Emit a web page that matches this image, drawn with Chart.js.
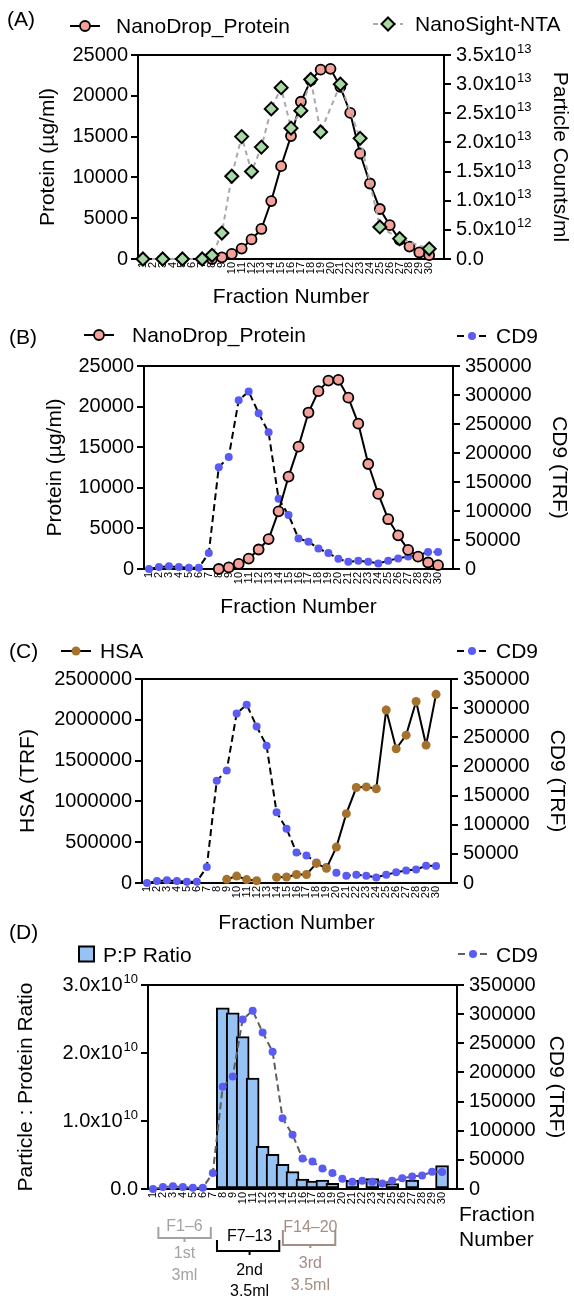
<!DOCTYPE html>
<html>
<head>
<meta charset="utf-8">
<script src="https://cdn.jsdelivr.net/npm/chart.js@4.4.1/dist/chart.umd.min.js"></script>
<style>
  html, body { margin: 0; padding: 0; background: #fff; }
  #page { position: relative; width: 574px; height: 1298px; overflow: hidden; }
  canvas { position: absolute; left: 0; }
</style>
</head>
<body>
<div id="page">
  <canvas id="panelA" width="574" height="310" style="top:0px;width:574px;height:310px"></canvas>
  <canvas id="panelB" width="574" height="310" style="top:310px;width:574px;height:310px"></canvas>
  <canvas id="panelC" width="574" height="316" style="top:620px;width:574px;height:316px"></canvas>
  <canvas id="panelD" width="574" height="383" style="top:915px;width:574px;height:383px"></canvas>
</div>
<script>
// fraction numbers 1..30
const fractions = [1, 2, 3, 4, 5, 6, 7, 8, 9, 10, 11, 12, 13, 14, 15, 16, 17, 18, 19, 20, 21, 22, 23, 24, 25, 26, 27, 28, 29, 30];

// NanoDrop protein, ug/ml
const proteinUgMl = [null, null, null, null, null, null, null, 0, 200, 620, 1280, 2400, 3680, 7100, 11380, 15070, 19270, 21900, 23200, 23300, 21100, 17900, 12930, 9250, 6130, 4150, 2350, 1520, 800, 470];

// NanoSight-NTA particle counts / ml
const ntaParticles = [0, null, 0, null, 0, null, 0, 6.3e11, 4.45e12, 1.42e13, 2.10e13, 1.50e13, 1.92e13, 2.575e13, 2.94e13, 2.245e13, 2.545e13, 3.08e13, 2.18e13, null, 3.0e13, null, 2.07e13, null, 5.5e12, null, 3.5e12, null, null, 1.75e12];

// CD9 TRF
const cd9Trf = [0, 3400, 4600, 3400, 2300, 2300, 27500, 175500, 193200, 291000, 306000, 268600, 235600, 121200, 93200, 52500, 47000, 35300, 27500, 17500, 12300, 14300, 12600, 9500, 14300, 18300, 21500, 23300, 29500, 29300];

// HSA TRF
const hsaTrf = [null, null, null, null, null, null, null, null, 45000, 85000, 42000, 27000, null, 70000, 74000, 104000, 104000, 240000, 180000, 440000, 850000, 1170000, 1178000, 1155000, 2120000, 1645000, 1812000, 2224000, 1690000, 2312000];

// particle : protein ratio
const ppRatio = [null, null, null, null, null, null, null, 2.665e10, 2.59e10, 2.24e10, 1.632e10, 6.27e9, 5.1e9, 3.63e9, 2.55e9, 1.47e9, 1.18e9, 1.3e9, 8.5e8, null, 1.27e9, null, 1.52e9, null, 7.8e8, null, 1.32e9, null, null, 3.43e9];

const FONT = '"Liberation Sans", Arial, Helvetica, sans-serif';
Chart.defaults.font.family = FONT;
Chart.defaults.color = '#000';

// "3.5x10" + "13" for scientific tick labels
function sciParts(v) {
    if (v === 0) return { base: '0.0', exp: '' };
    const exp = Math.floor(Math.log10(v) + 1e-9);
    const man = Math.round(v / Math.pow(10, exp) * 10) / 10;
    return { base: man.toFixed(1) + 'x10', exp: String(exp) };
}

function xAxis(height, withTitle) {
    return {
        type: 'linear', min: 0.5, max: 31.5, offset: false,
        afterBuildTicks: s => { s.ticks = fractions.map(v => ({ value: v })); },
        afterFit: s => { s.height = height; },
        ticks: { autoSkip: false, minRotation: 90, maxRotation: 90, padding: 3, font: { size: 11 }, callback: v => String(v) },
        grid: { display: false, drawTicks: false },
        border: { color: '#000', width: 2 },
        title: { display: withTitle, text: 'Fraction Number', font: { size: 21 }, padding: 0 }
    };
}

function yAxis(side, width, max, step, title, titlePad, sci) {
    return {
        position: side, min: 0, max: max,
        afterFit: s => { s.width = width; },
        ticks: { stepSize: step, padding: side === 'left' ? 3 : 5, font: { size: 20 }, callback: sci ? (() => '') : (v => String(v)) },
        grid: { drawOnChartArea: false, tickLength: 7, lineWidth: 2, color: '#000' },
        border: { color: '#000', width: 2 },
        title: { display: true, text: title, font: { size: 21 }, padding: { top: titlePad, bottom: 0 } }
    };
}

function drawShape(ctx, style, r, x, y, fill, stroke, bw) {
    ctx.beginPath();
    if (style === 'rectRot') {
        ctx.moveTo(x, y - r); ctx.lineTo(x + r, y); ctx.lineTo(x, y + r); ctx.lineTo(x - r, y); ctx.closePath();
    } else {
        ctx.arc(x, y, r, 0, Math.PI * 2);
    }
    ctx.fillStyle = fill; ctx.fill();
    if (bw) { ctx.lineWidth = bw; ctx.strokeStyle = stroke; ctx.stroke(); }
}

// frame line along the top of the plot area
const frameTop = {
    id: 'frameTop',
    afterDraw(chart) {
        const { ctx, chartArea: a } = chart;
        ctx.save();
        ctx.strokeStyle = '#000'; ctx.lineWidth = 2;
        ctx.beginPath(); ctx.moveTo(a.left - 1, a.top); ctx.lineTo(a.right + 1, a.top); ctx.stroke();
        ctx.restore();
    }
};

// tick labels with superscript exponents, placed from the scale's own ticks
const sciTicks = {
    id: 'sciTicks',
    afterDraw(chart, args, opts) {
        const ctx = chart.ctx;
        ctx.save();
        ctx.fillStyle = '#000';
        ctx.textBaseline = 'middle';
        ctx.textAlign = 'left';
        opts.axes.forEach(id => {
            const s = chart.scales[id];
            s.ticks.forEach(t => {
                const y = s.getPixelForValue(t.value);
                const p = sciParts(t.value);
                ctx.font = '20px ' + FONT;
                const bw = ctx.measureText(p.base).width;
                ctx.font = '13px ' + FONT;
                const ew = p.exp ? ctx.measureText(p.exp).width + 1 : 0;
                const x = s.position === 'left' ? s.right - 7 - 3 - bw - ew : s.left + 7 + 5;
                ctx.font = '20px ' + FONT;
                ctx.fillText(p.base, x, y);
                if (p.exp) {
                    ctx.font = '13px ' + FONT;
                    ctx.fillText(p.exp, x + bw + 1, y - 6);
                }
            });
        });
        ctx.restore();
    }
};

// panel tag + split legend (left / right items)
const panelLegend = {
    id: 'panelLegend',
    afterDraw(chart, args, opts) {
        const ctx = chart.ctx;
        ctx.save();
        ctx.textBaseline = 'alphabetic';
        ctx.fillStyle = '#000';
        ctx.font = '21px ' + FONT;
        ctx.fillText(opts.tag, opts.tagX, opts.tagY);
        opts.items.forEach(it => {
            const ds = chart.data.datasets[it.ds];
            if (ds.type === 'bar') {
                ctx.fillStyle = ds.backgroundColor;
                ctx.fillRect(it.mx - 7.5, it.my - 7.5, 15, 15);
                ctx.lineWidth = 2; ctx.strokeStyle = '#000';
                ctx.strokeRect(it.mx - 7.5, it.my - 7.5, 15, 15);
            } else {
                ctx.strokeStyle = ds.borderColor; ctx.lineWidth = ds.borderWidth;
                ctx.setLineDash(ds.borderDash || []);
                ctx.beginPath(); ctx.moveTo(it.mx - 15, it.my); ctx.lineTo(it.mx + 15, it.my); ctx.stroke();
                ctx.setLineDash([]);
                drawShape(ctx, ds.pointStyle, ds.pointRadius, it.mx, it.my, ds.pointBackgroundColor, ds.pointBorderColor, ds.pointBorderWidth);
            }
            ctx.fillStyle = '#000';
            ctx.font = '21px ' + FONT;
            ctx.fillText(ds.label, it.tx, it.ty);
        });
        ctx.restore();
    }
};

// fraction-group brackets under panel D
const groupBrackets = {
    id: 'groupBrackets',
    afterDraw(chart, args, opts) {
        const ctx = chart.ctx, xs = chart.scales.x, a = chart.chartArea;
        ctx.save();
        ctx.textAlign = 'center';
        ctx.textBaseline = 'alphabetic';
        opts.groups.forEach(g => {
            const x0 = xs.getPixelForValue(g.from), x1 = xs.getPixelForValue(g.to), xm = xs.getPixelForValue(g.mid);
            ctx.strokeStyle = g.color; ctx.lineWidth = 2;
            ctx.beginPath();
            ctx.moveTo(x0, g.armTop); ctx.lineTo(x0, g.armBottom); ctx.lineTo(x1, g.armBottom); ctx.lineTo(x1, g.armTop);
            ctx.moveTo(xm, g.armBottom); ctx.lineTo(xm, g.tickEnd);
            ctx.stroke();
            ctx.fillStyle = g.color;
            ctx.font = '16px ' + FONT;
            ctx.fillText(g.head, xm, g.headY);
            g.lines.forEach((t, i) => ctx.fillText(t, xm, g.lineY[i]));
        });
        ctx.textAlign = 'left';
        ctx.fillStyle = '#000';
        ctx.font = '21px ' + FONT;
        opts.axisTitle.forEach((t, i) => ctx.fillText(t, a.right + 2, opts.axisTitleY[i]));
        ctx.restore();
    }
};

const proteinStyle = {
    type: 'line', label: 'NanoDrop_Protein', yAxisID: 'y', clip: false,
    borderColor: '#000', borderWidth: 2,
    pointStyle: 'circle', pointRadius: 5, pointBackgroundColor: '#f4a19b', pointBorderColor: '#000', pointBorderWidth: 1.8
};
function cd9Style(lineColor) {
    return {
        type: 'line', label: 'CD9', data: cd9Trf, yAxisID: 'y1', clip: false,
        borderColor: lineColor, borderWidth: 2, borderDash: [7, 4],
        pointStyle: 'circle', pointRadius: 4, pointBackgroundColor: '#5a5af5', pointBorderColor: '#5a5af5', pointBorderWidth: 0
    };
}

const common = { responsive: false, maintainAspectRatio: false, animation: false, events: [] };

// (A)
new Chart(document.getElementById('panelA'), {
    type: 'line',
    data: {
        labels: fractions,
        datasets: [
            { ...proteinStyle, data: proteinUgMl, order: 1 },
            {
                type: 'line', label: 'NanoSight-NTA', data: ntaParticles, yAxisID: 'y1', order: 0, spanGaps: true, clip: false,
                borderColor: '#a9a9a9', borderWidth: 2, borderDash: [5, 4],
                pointStyle: 'rectRot', pointRadius: 6.5, pointBackgroundColor: '#a6d9a3', pointBorderColor: '#000', pointBorderWidth: 2
            }
        ]
    },
    options: {
        ...common,
        layout: { padding: { top: 55, left: 0, right: 0, bottom: 0 } },
        scales: {
            x: xAxis(51, true),
            y: yAxis('left', 138, 25000, 5000, 'Protein (\u00b5g/ml)', 36),
            y1: yAxis('right', 130, 3.5e13, 5e12, 'Particle Counts/ml', 2, true)
        },
        plugins: {
            legend: { display: false }, tooltip: { enabled: false },
            sciTicks: { axes: ['y1'] },
            panelLegend: { tag: '(A)', tagX: 7, tagY: 26, items: [{ ds: 0, mx: 85, my: 26, tx: 116, ty: 33 }, { ds: 1, mx: 388, my: 24, tx: 415, ty: 31 }] }
        }
    },
    plugins: [frameTop, sciTicks, panelLegend]
});

// (B)
new Chart(document.getElementById('panelB'), {
    type: 'line',
    data: {
        labels: fractions,
        datasets: [
            { ...proteinStyle, data: proteinUgMl, order: 0 },
            { ...cd9Style('#000'), order: 1 }
        ]
    },
    options: {
        ...common,
        layout: { padding: { top: 56, left: 0, right: 0, bottom: 0 } },
        scales: {
            x: xAxis(51, true),
            y: yAxis('left', 144, 25000, 5000, 'Protein (\u00b5g/ml)', 43),
            y1: yAxis('right', 121, 350000, 50000, 'CD9 (TRF)', 3)
        },
        plugins: {
            legend: { display: false }, tooltip: { enabled: false },
            panelLegend: { tag: '(B)', tagX: 9, tagY: 34, items: [{ ds: 0, mx: 99, my: 25, tx: 132, ty: 32 }, { ds: 1, mx: 472, my: 26, tx: 496, ty: 33 }] }
        }
    },
    plugins: [frameTop, panelLegend]
});

// (C)
new Chart(document.getElementById('panelC'), {
    type: 'line',
    data: {
        labels: fractions,
        datasets: [
            {
                type: 'line', label: 'HSA', data: hsaTrf, yAxisID: 'y', order: 0, clip: false,
                borderColor: '#000', borderWidth: 2,
                pointStyle: 'circle', pointRadius: 4.5, pointBackgroundColor: '#a5722d', pointBorderColor: '#a5722d', pointBorderWidth: 0
            },
            { ...cd9Style('#000'), order: 1 }
        ]
    },
    options: {
        ...common,
        layout: { padding: { top: 59, left: 0, right: 0, bottom: 0 } },
        scales: {
            x: xAxis(53, true),
            y: yAxis('left', 142, 2500000, 500000, 'HSA (TRF)', 16),
            y1: yAxis('right', 123, 350000, 50000, 'CD9 (TRF)', 5)
        },
        plugins: {
            legend: { display: false }, tooltip: { enabled: false },
            panelLegend: { tag: '(C)', tagX: 9, tagY: 38, items: [{ ds: 0, mx: 76, my: 31, tx: 100, ty: 38 }, { ds: 1, mx: 472, my: 31, tx: 496, ty: 38 }] }
        }
    },
    plugins: [frameTop, panelLegend]
});

// (D)
new Chart(document.getElementById('panelD'), {
    type: 'bar',
    data: {
        labels: fractions,
        datasets: [
            {
                type: 'bar', label: 'P:P Ratio', data: ppRatio, yAxisID: 'y', order: 1,
                backgroundColor: '#96c3f3', borderColor: '#000', borderWidth: 2, borderSkipped: false, barThickness: 13
            },
            { ...cd9Style('#5e5e5e'), order: 0 }
        ]
    },
    options: {
        ...common,
        layout: { padding: { top: 70, left: 0, right: 0, bottom: 0 } },
        scales: {
            x: xAxis(109, false),
            y: yAxis('left', 148, 3.0e10, 1.0e10, 'Particle : Protein Ratio', 14, true),
            y1: yAxis('right', 117, 350000, 50000, 'CD9 (TRF)', 6)
        },
        plugins: {
            legend: { display: false }, tooltip: { enabled: false },
            sciTicks: { axes: ['y'] },
            panelLegend: { tag: '(D)', tagX: 9, tagY: 24, items: [{ ds: 0, mx: 86.5, my: 39, tx: 103, ty: 46.5 }, { ds: 1, mx: 473, my: 39, tx: 496, ty: 46.5 }] },
            groupBrackets: {
                axisTitle: ['Fraction', 'Number'], axisTitleY: [306, 331],
                groups: [
                    { from: 1.54, to: 6.8, mid: 4.16, color: '#a3a3a3', armTop: 312, armBottom: 323, tickEnd: 327, head: 'F1\u20136', headY: 316, lines: ['1st', '3ml'], lineY: [343, 365] },
                    { from: 7.42, to: 13.67, mid: 10.69, color: '#000', armTop: 325, armBottom: 336, tickEnd: 340, head: 'F7\u201313', headY: 326, lines: ['2nd', '3.5ml'], lineY: [360, 381] },
                    { from: 14.03, to: 19.29, mid: 16.79, color: '#a48e84', armTop: 315, armBottom: 330, tickEnd: 333, head: 'F14\u201320', headY: 317, lines: ['3rd', '3.5ml'], lineY: [353, 375] }
                ]
            }
        }
    },
    plugins: [frameTop, sciTicks, panelLegend, groupBrackets]
});
</script>
</body>
</html>
